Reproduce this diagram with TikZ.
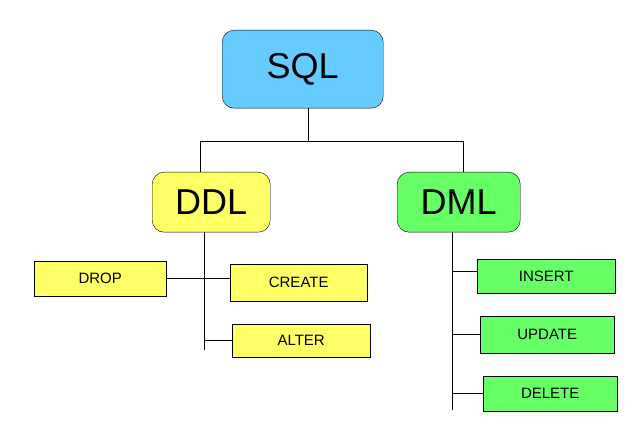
\documentclass[tikz,border=0pt]{standalone}
\usepackage{fontspec}
\setmainfont{Liberation Sans}
\definecolor{sqlblue}{HTML}{66CCFF}
\definecolor{ylw}{HTML}{FFFF66}
\definecolor{grn}{HTML}{66FF66}
\begin{document}
\begin{tikzpicture}[x=1pt,y=-1pt,
  big/.style={draw=black,rounded corners=12pt,font=\fontsize{36}{38}\selectfont,anchor=north west,inner sep=0pt},
  small/.style={draw=black,fill=ylw,font=\fontsize{15}{17}\selectfont,anchor=north west,inner sep=0pt},
  gsmall/.style={small,fill=grn},
  ln/.style={draw=black,line width=0.6pt}]
\useasboundingbox (0,0) rectangle (640,430);
\node[big,fill=sqlblue,minimum width=161pt,minimum height=78pt] (sql) at (222,30) {SQL};
\node[big,fill=ylw,minimum width=118pt,minimum height=60pt] (ddl) at (152,172) {DDL};
\node[big,fill=grn,minimum width=123pt,minimum height=60pt] (dml) at (397,172) {DML};
\node[small,minimum width=132pt,minimum height=35pt] (drop) at (34,261) {DROP};
\node[small,minimum width=137pt,minimum height=37pt] (create) at (230,264) {CREATE};
\node[small,minimum width=138pt,minimum height=33pt] (alter) at (232,324) {ALTER};
\node[gsmall,minimum width=138pt,minimum height=34pt] (insert) at (477,259) {INSERT};
\node[gsmall,minimum width=134pt,minimum height=37pt] (update) at (480,316) {UPDATE};
\node[gsmall,minimum width=134pt,minimum height=35pt] (delete) at (483,376) {DELETE};
\coordinate (j) at (308,141);
\coordinate (jl) at (200,141);
\coordinate (jr) at (463,141);
\coordinate (ddlb) at (204,350);
\coordinate (dmlb) at (452,410);
\path[ln] (j|-sql.south) -- (j) (jl) -- (jr) (jl) -- (jl|-ddl.north) (jr) -- (jr|-dml.north);
\path[ln] (ddlb|-ddl.south) -- (ddlb);
\path[ln] (drop.east) -- (drop.east-|create.west);
\path[ln] (ddlb|-alter.west) -- (alter.west);
\path[ln] (dmlb|-dml.south) -- (dmlb);
\path[ln] (452,271) -- (477,271);
\path[ln] (dmlb|-update.west) -- (update.west);
\path[ln] (dmlb|-delete.west) -- (delete.west);
\end{tikzpicture}
\end{document}
